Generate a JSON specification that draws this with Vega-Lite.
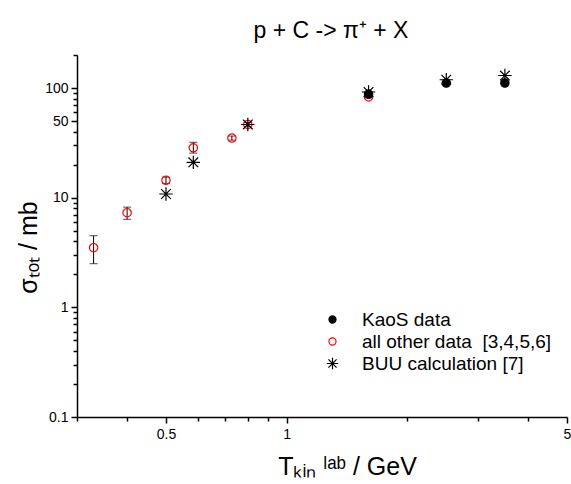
{
  "$schema": "https://vega.github.io/schema/vega-lite/v6.json",
  "width": 490,
  "height": 362,
  "padding": {"left": 16, "top": 20, "right": 0, "bottom": 0},
  "background": "white",
  "title": {
    "text": "p + C -> π⁺ + X",
    "font": "Liberation Sans",
    "fontSize": 23,
    "fontWeight": "normal",
    "color": "black",
    "offset": 5,
    "dx": 9
  },
  "config": {
    "view": {"stroke": null},
    "font": "Liberation Sans"
  },
  "data": {
    "values": [
      {"T": 0.33, "sigma": 3.5, "lo": 2.5, "hi": 4.5, "series": "all other data \u00a0[3,4,5,6]"},
      {"T": 0.40, "sigma": 7.3, "lo": 6.35, "hi": 8.2, "series": "all other data \u00a0[3,4,5,6]"},
      {"T": 0.50, "sigma": 14.4, "lo": 13.5, "hi": 15.4, "series": "all other data \u00a0[3,4,5,6]"},
      {"T": 0.585, "sigma": 28.5, "lo": 25.5, "hi": 32, "series": "all other data \u00a0[3,4,5,6]"},
      {"T": 0.73, "sigma": 35, "lo": 33.5, "hi": 36.5, "series": "all other data \u00a0[3,4,5,6]"},
      {"T": 0.80, "sigma": 46.5, "lo": 44.5, "hi": 48.5, "series": "all other data \u00a0[3,4,5,6]"},
      {"T": 1.6, "sigma": 83, "lo": 81, "hi": 85, "series": "all other data \u00a0[3,4,5,6]"},
      {"T": 1.6, "sigma": 88, "series": "KaoS data"},
      {"T": 2.5, "sigma": 111, "series": "KaoS data"},
      {"T": 3.5, "sigma": 111, "series": "KaoS data"},
      {"T": 0.50, "sigma": 10.8, "series": "BUU calculation [7]"},
      {"T": 0.585, "sigma": 21, "series": "BUU calculation [7]"},
      {"T": 0.80, "sigma": 46.5, "series": "BUU calculation [7]"},
      {"T": 1.6, "sigma": 92, "series": "BUU calculation [7]"},
      {"T": 2.5, "sigma": 119, "series": "BUU calculation [7]"},
      {"T": 3.5, "sigma": 130, "series": "BUU calculation [7]"}
    ]
  },
  "encoding": {
    "x": {
      "field": "T",
      "type": "quantitative",
      "scale": {"type": "log", "domain": [0.3, 5], "nice": false},
      "axis": {
        "title": "Tₖᵢₙ ˡᵃᵇ / GeV",
        "titleFont": "Liberation Sans",
        "titleFontSize": 25,
        "titleFontWeight": "normal",
        "titleColor": "black",
        "titlePadding": 13,
        "titleX": 270,
        "values": [0.3, 0.4, 0.5, 0.6, 0.7, 0.8, 0.9, 1, 2, 3, 4, 5],
        "labelExpr": "indexof([0.5, 1, 5], datum.value) >= 0 ? format(datum.value, '~g') : ''",
        "labelFont": "Liberation Sans",
        "labelFontSize": 14,
        "labelColor": "black",
        "labelPadding": 4,
        "labelFlush": false,
        "labelOverlap": false,
        "grid": false,
        "domainColor": "black",
        "domainWidth": 1.5,
        "tickColor": "black",
        "tickWidth": 1.5,
        "tickSize": {"condition": {"test": "indexof([0.5, 1, 5], datum.value) >= 0", "value": 6}, "value": 4}
      }
    },
    "y": {
      "field": "sigma",
      "type": "quantitative",
      "scale": {"type": "log", "domain": [0.1, 200], "nice": false},
      "axis": {
        "title": "σₜₒₜ  / mb",
        "titleFont": "Liberation Sans",
        "titleFontSize": 25,
        "titleFontWeight": "normal",
        "titleColor": "black",
        "titlePadding": 3,
        "titleY": 192,
        "values": [0.1, 0.2, 0.3, 0.4, 0.5, 0.6, 0.7, 0.8, 0.9, 1, 2, 3, 4, 5, 6, 7, 8, 9, 10, 20, 30, 40, 50, 60, 70, 80, 90, 100, 200],
        "labelExpr": "indexof([0.1, 1, 10, 50, 100], datum.value) >= 0 ? format(datum.value, '~g') : ''",
        "labelFont": "Liberation Sans",
        "labelFontSize": 14,
        "labelColor": "black",
        "labelPadding": 3,
        "labelOverlap": false,
        "labelFlush": false,
        "grid": false,
        "domainColor": "black",
        "domainWidth": 1.5,
        "tickColor": "black",
        "tickWidth": 1.5,
        "tickSize": {"condition": {"test": "indexof([0.1, 1, 10, 50, 100], datum.value) >= 0", "value": 6}, "value": 4}
      }
    }
  },
  "layer": [
    {
      "transform": [{"filter": "isValid(datum.lo)"}],
      "mark": {"type": "rule", "color": "black", "strokeWidth": 1},
      "encoding": {
        "y": {"field": "lo", "type": "quantitative"},
        "y2": {"field": "hi"}
      }
    },
    {
      "transform": [{"filter": "isValid(datum.lo)"}],
      "mark": {"type": "tick", "orient": "horizontal", "color": "black", "size": 8, "thickness": 1},
      "encoding": {
        "y": {"field": "lo", "type": "quantitative"}
      }
    },
    {
      "transform": [{"filter": "isValid(datum.hi)"}],
      "mark": {"type": "tick", "orient": "horizontal", "color": "black", "size": 8, "thickness": 1},
      "encoding": {
        "y": {"field": "hi", "type": "quantitative"}
      }
    },
    {
      "mark": {"type": "point", "strokeWidth": 1.2, "opacity": 1, "size": 70},
      "encoding": {
        "shape": {
          "field": "series",
          "type": "nominal",
          "scale": {
            "domain": ["KaoS data", "all other data \u00a0[3,4,5,6]", "BUU calculation [7]"],
            "range": ["circle", "circle", "M-1.6,0L1.6,0M0,-1.6L0,1.6M-1.15,-1.15L1.15,1.15M-1.15,1.15L1.15,-1.15"]
          },
          "legend": {
            "title": null,
            "orient": "none",
            "legendX": 246,
            "legendY": 255,
            "labelFont": "Liberation Sans",
            "labelFontSize": 19,
            "labelColor": "black",
            "labelLimit": 400,
            "labelOffset": 20,
            "rowPadding": 2,
            "symbolSize": 50,
            "symbolStrokeWidth": 1.2
          }
        },
        "stroke": {
          "field": "series",
          "type": "nominal",
          "scale": {
            "domain": ["KaoS data", "all other data \u00a0[3,4,5,6]", "BUU calculation [7]"],
            "range": ["black", "red", "black"]
          }
        },
        "fill": {
          "field": "series",
          "type": "nominal",
          "scale": {
            "domain": ["KaoS data", "all other data \u00a0[3,4,5,6]", "BUU calculation [7]"],
            "range": ["black", "transparent", "transparent"]
          }
        }
      }
    }
  ]
}
